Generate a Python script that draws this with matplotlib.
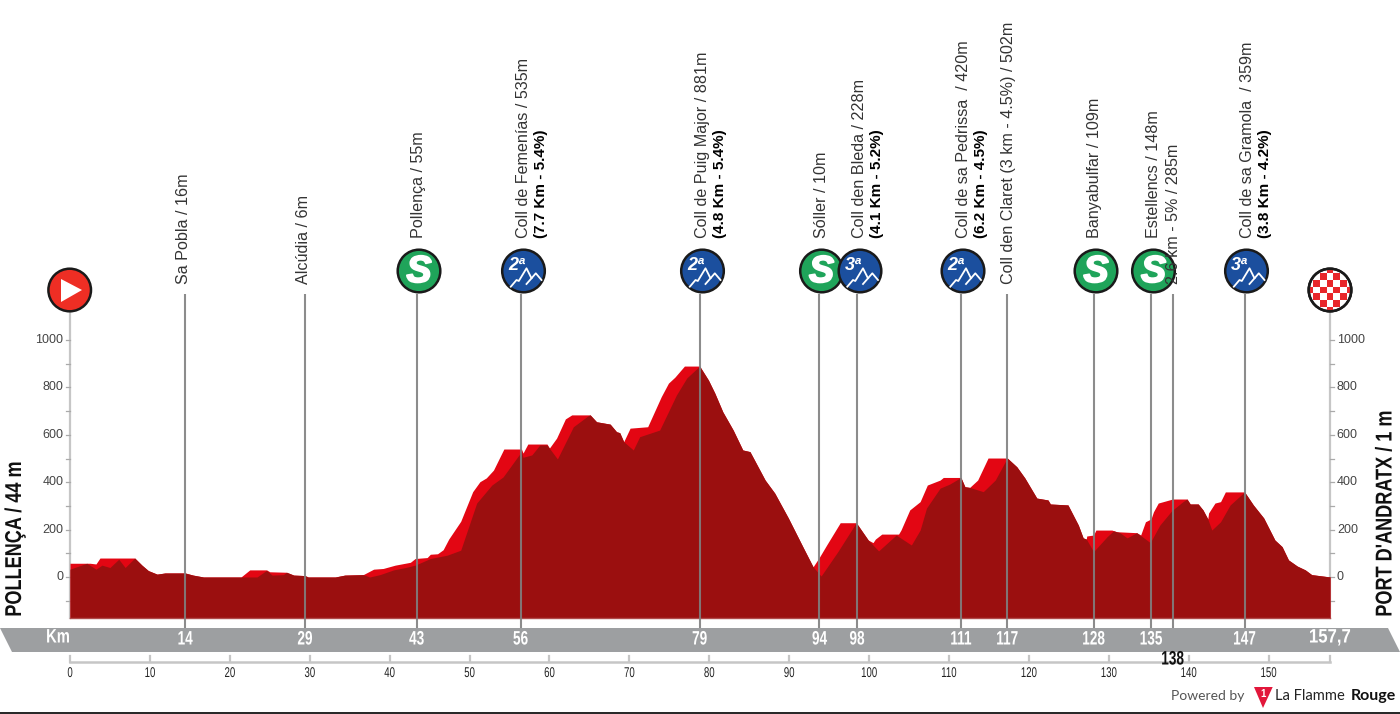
import matplotlib
matplotlib.use("Agg")
import matplotlib.pyplot as plt
import matplotlib.patheffects as pe
from matplotlib.patches import Circle, Polygon, Rectangle
from matplotlib.transforms import Affine2D

# elevation outline, bright red (km, m)
top_km = [0, 2.5, 3.25, 3.75, 8.1, 9, 9.8, 10.9, 11.9, 14.4, 15.4, 16.7, 21.4, 22.5, 24.6, 25, 27.1, 28, 29.4, 29.8,
          33.2, 34.4, 36.7, 38, 39.2, 40.7, 42.6, 43.2, 44.7, 45.1, 46, 46.7, 47.4, 48.9, 50.4, 51.3, 52.1, 53, 54.3,
          56.5, 56.7, 57.3, 59.7, 60, 60.9, 62, 62.8, 65.1, 65.9, 67.6, 68.4, 68.8, 69.3, 70.1, 72.3, 74, 74.9, 75.7,
          76.9, 78.8, 79.9, 80.7, 81.7, 83, 84.2, 85.1, 87, 88.2, 89.9, 91.8, 93, 93.8, 94.7, 96.4, 98.4, 99.9, 100.5,
          100.8, 101.6, 103.7, 104, 105.1, 106.4, 107.3, 108.9, 109.3, 111.5, 112, 112.6, 113.6, 114.9, 117.3, 118.5,
          119.5, 121, 122.4, 122.7, 124.9, 126.2, 126.8, 127.2, 127.25, 128.1, 128.4, 130.4, 131, 133.5, 134, 134.6,
          135.3, 135.6, 136.2, 138, 139.8, 140.2, 141.2, 141.8, 142.4, 142.5, 143.3, 144, 144.6, 147, 148.1, 149.4,
          150.8, 151.7, 152.5, 153.6, 154.6, 155.4, 157.5, 157.7]
top_m = [58, 58, 55, 80, 80, 50, 27, 12, 17, 17, 8, 0, 0, 30, 30, 22, 20, 8, 6, 0,
         0, 8, 10, 33, 36, 50, 62, 78, 82, 96, 98, 115, 160, 235, 360, 402, 418, 451, 540,
         540, 523, 561, 561, 544, 586, 667, 684, 684, 655, 645, 613, 609, 571, 628, 634, 761, 818, 843,
         890, 890, 831, 776, 697, 620, 536, 529, 409, 354, 249, 122, 43, 84, 135, 229, 229, 156, 145,
         160, 181, 181, 198, 283, 318, 388, 409, 420, 420, 381, 378, 409, 502, 502, 465,
         418, 333, 325, 308, 304, 219, 165, 160, 173, 177, 198, 198, 191, 187, 177, 233,
         245, 275, 312, 329, 329, 308, 308, 283, 245, 270, 312, 318, 359, 359, 304, 249,
         156, 128, 72, 46, 30, 10, 1, 1]

# darker front face, sits under the bright edge on the climbs
face_km = [0, 2.1, 3.25, 4, 5, 6.1, 6.9, 8.1, 9, 9.8, 10.9, 11.9, 14.4, 15.4, 16.7, 21.4, 23.4, 24.6, 25.3, 26.7, 27.1,
           28, 29.4, 29.8, 33.2, 34.4, 36.7, 37.5, 38.8, 40.5, 42, 43.2, 45.1, 47.2, 48.9, 50.9, 52.8, 54.2, 56.5, 56.7,
           57.8, 58.8, 59.7, 61, 63, 64.8, 65.1, 65.9, 67.6, 68.4, 68.8, 69.3, 70.5, 71.3, 73.8, 75.9, 77.2, 78.8,
           79.9, 80.7, 81.7, 83, 84.2, 85.1, 87, 88.2, 89.9, 91.8, 93, 94, 96.1, 98.4, 99.9, 101.2, 103.4, 105.3, 106.4,
           107.2, 108.9, 110.1, 111.5, 112, 112.6, 114.3, 115.8, 117.3, 118.5, 119.5, 121, 122.4, 122.7, 124.9, 126.2,
           126.8, 127.2, 128.1, 129.8, 130.6, 131.4, 132.3, 133.5, 134.2, 135.2, 136.4, 137.9, 139.3, 139.8, 140.2,
           141.2, 141.8, 142.4, 142.9, 144, 145.2, 147, 148.1, 149.4, 150.8, 151.7, 152.5, 153.6, 154.6, 155.4, 157.5,
           157.7]
face_m = [33, 58, 33, 50, 40, 75, 40, 80, 50, 27, 12, 17, 17, 8, 0, 0, 0, 28, 8, 10, 20,
          8, 6, 0, 0, 8, 10, 0, 10, 30, 40, 50, 78, 92, 113, 312, 388, 422, 529, 505,
          515, 557, 557, 498, 634, 679, 684, 655, 645, 613, 609, 571, 536, 592, 620, 768, 840, 890,
          831, 776, 697, 620, 536, 529, 409, 354, 249, 122, 43, 4, 107, 229, 156, 110, 177, 135, 198,
          291, 375, 392, 420, 381, 378, 360, 409, 502, 465, 418, 333, 325, 308, 304, 219,
          165, 160, 107, 170, 195, 187, 165, 187, 170, 145, 219, 280, 318, 329, 308,
          308, 283, 245, 198, 233, 304, 359, 304, 249, 156, 128, 72, 46, 30, 10, 1, 1]

stem_km = [14.4, 29.4, 43.4, 56.4, 78.8, 93.8, 98.5, 111.5, 117.3, 128.1, 135.3, 138, 147]
stem_labels = ["14", "29", "43", "56", "79", "94", "98", "111", "117", "128", "135", "138", "147"]

elev_ticks = [-100, 0, 100, 200, 300, 400, 500, 600, 700, 800, 900, 1000]
elev_labels = [0, 200, 400, 600, 800, 1000]
km_ticks = list(range(0, 151, 10))

places = ["Sa Pobla / 16m", "Alcúdia / 6m", "Pollença / 55m", "Coll de Femenías / 535m", "Coll de Puig Major / 881m",
          "Sóller / 10m", "Coll den Bleda / 228m", "Coll de sa Pedrissa  / 420m",
          "Coll den Claret (3 km - 4.5%) / 502m", "Banyabulfar / 109m", "Estellencs / 148m", "2.6 km - 5% / 285m",
          "Coll de sa Gramola  / 359m"]
place_x = [184, 304, 419, 523, 702, 822, 859, 963, 1008, 1095, 1154, 1173, 1247]
place_bottom = [284, 284, 238, 238, 238, 238, 238, 238, 284, 238, 238, 284, 238]
climb_text = ["(7.7 Km - 5.4%)", "(4.8 Km - 5.4%)", "(4.1 Km - 5.2%)", "(6.2 Km - 4.5%)", "(3.8 Km - 4.2%)"]
climb_x = [541, 720, 877, 981, 1265]

sprint_x = [419, 821.5, 1096, 1153.5]
climb_badge_x = [523.5, 702.5, 860, 963, 1246.5]
climb_badge_cat = ["2ª", "2ª", "3ª", "2ª", "3ª"]

BRIGHT = "#e30613"
DARK = "#9b0f0f"
BAND = "#9d9fa1"
STEM = "#808080"
AXIS = "#c6c6c6"
SANS = ["Liberation Sans", "DejaVu Sans"]
FOOT = ["Lato", "DejaVu Sans"]


# no narrow font installed, so squeeze the glyphs along the text direction
class Squeeze(pe.AbstractPathEffect):
    def __init__(self, sx, from_start=False):
        super().__init__()
        self.sx = sx
        self.from_start = from_start

    def draw_path(self, renderer, gc, tpath, affine, rgbFace=None):
        ext = tpath.get_extents()
        c = ext.x0 if self.from_start else (ext.x0 + ext.x1) / 2
        squeeze = Affine2D().translate(-c, 0).scale(self.sx, 1).translate(c, 0)
        renderer.draw_path(gc, tpath, squeeze + affine, rgbFace)


fig = plt.figure(figsize=(14, 7.14), dpi=100)

# profile axes, km/m. 7.99 px per km, 0.237 px per m, km 0 at px 70, 0 m at px 577
ax = fig.add_axes([0, 0, 1, 1])
ax.set_xlim(-70 / 7.99, (1400 - 70) / 7.99)
ax.set_ylim(-(714 - 577) / 0.237, 577 / 0.237)
ax.axis("off")

floor = -173
ax.fill_between(top_km, top_m, floor, color=BRIGHT, lw=0, zorder=2)
ax.fill_between(face_km, face_m, floor, color=DARK, lw=0, zorder=3)
ax.plot([0, 157.7], [floor, floor], color="#b04a4a", lw=1, zorder=3)

# elevation axes both sides
for xa, sign, ha in [(0, -1, "right"), (157.7, 1, "left")]:
    ax.plot([xa, xa], [floor, 1115], color=AXIS, lw=1.6, zorder=1)
    for t in elev_ticks:
        ax.plot([xa, xa + sign * 0.55], [t, t], color="#aaaaaa", lw=0.9, zorder=1)
    for t in elev_labels:
        ax.text(xa + sign * 0.85, t, str(t), ha=ha, va="center", fontsize=9, color="#444444", family=SANS)

# overlay in pixels for the furniture
ov = fig.add_axes([0, 0, 1, 1])
ov.set_xlim(0, 1400)
ov.set_ylim(714, 0)
ov.axis("off")
ov.patch.set_alpha(0)

ov.add_patch(Polygon([(0, 628), (1388, 628), (1400, 652), (12, 652)], color=BAND, lw=0, zorder=1))
ov.plot([0, 1400], [713.4, 713.4], color="black", lw=1.2, zorder=1)


def km_px(k):
    return 70 + k * 7.99


def band_text(x, y, s, sx, color="white"):
    ov.text(x, y, s, ha="center", va="center", fontsize=14, color=color, family=SANS, weight="bold", zorder=7,
            path_effects=[Squeeze(sx)])


for k, lab in zip(stem_km, stem_labels):
    px = km_px(k)
    ov.plot([px, px], [293.5, 628], color=STEM, lw=1.5, alpha=0.9, zorder=2, solid_capstyle="butt")
    if lab == "138":
        band_text(px, 660, lab, 0.7, "#111111")
    else:
        band_text(px, 640, lab, 0.7)
band_text(58, 638, "Km", 0.76)
band_text(km_px(157.7), 638, "157,7", 0.86)

# km scale under the band
ov.plot([km_px(0), km_px(157.7)], [662.3, 662.3], color=AXIS, lw=1.8, zorder=2)
for k in km_ticks + [157.7]:
    ov.plot([km_px(k), km_px(k)], [656, 662], color=AXIS, lw=1.6, zorder=2)
for k in km_ticks:
    ov.text(km_px(k), 673, str(k), ha="center", va="center", fontsize=10.2, color="#222222", family=SANS, zorder=3,
            path_effects=[Squeeze(0.68)])

# rotated labels
for name, x, b in zip(places, place_x, place_bottom):
    ov.text(x, b, name, rotation=90, ha="center", va="bottom", fontsize=11.6, color="#333333", family=SANS, zorder=6)
for name, x in zip(climb_text, climb_x):
    ov.text(x, 238, name, rotation=90, ha="center", va="bottom", fontsize=11, color="black", family=SANS,
            weight="bold", zorder=6)
for x, s in [(14.5, "POLLENÇA / 44 m"), (1385, "PORT D'ANDRATX / 1 m")]:
    ov.text(x, 617, s, rotation=90, ha="center", va="bottom", fontsize=16.5, color="#111111", family=SANS,
            weight="bold", path_effects=[Squeeze(0.79, from_start=True)])


def disc(x, y, color, z):
    ov.add_patch(Circle((x, y), 21.3, facecolor=color, edgecolor="#1a1a1a", lw=1.8, zorder=z))


for x in sprint_x:
    disc(x, 271, "#1fa45a", 3)
    ov.text(x, 272, "S", ha="center", va="center", fontsize=27, color="white", family=SANS, weight="bold",
            style="italic", zorder=4, path_effects=[pe.withStroke(linewidth=1.4, foreground="white")])

for x, cat in zip(climb_badge_x, climb_badge_cat):
    disc(x, 271, "#1b4f9e", 4)
    ov.text(x - 7, 265, cat, ha="center", va="center", fontsize=13, color="white", family=SANS, weight="bold",
            style="italic", zorder=5)
    ridge_x = [x - 12.7, x - 7, x - 4.7, x + 3, x + 8, x + 12.3, x + 18]
    ridge_y = [286.7, 280, 281, 268.3, 278.3, 273.3, 280]
    ov.plot(ridge_x, ridge_y, color="white", lw=1.3, zorder=5)
    ov.plot([x + 3, x + 8], [284, 278.3], color="white", lw=1.3, zorder=5)

# start
disc(69.7, 290, "#ee2e24", 3)
ov.add_patch(Polygon([(61, 279), (82, 290), (61, 302)], color="white", lw=0, zorder=4))

# finish, chequered
disc(1330, 290, "white", 3)
step = 6.7
for i in range(-3, 4):
    for j in range(-3, 4):
        if (i + j) % 2 == 1:
            r = Rectangle((1330 + (i - 0.5) * step, 290 + (j - 0.5) * step), step, step, facecolor="#e8262a", lw=0,
                          zorder=4)
            ov.add_patch(r)
            r.set_clip_path(Circle((1330, 290), 20.5, transform=ov.transData))
ov.add_patch(Circle((1330, 290), 21.3, facecolor="none", edgecolor="#1a1a1a", lw=1.8, zorder=5))

# footer
ov.text(1244, 696, "Powered by", ha="right", va="center", fontsize=10, color="#555555", family=FOOT)
ov.add_patch(Polygon([(1254, 687), (1272.7, 687), (1263, 708)], color="#e2173b", lw=0, zorder=3))
ov.text(1263, 694, "1", ha="center", va="center", fontsize=7, color="white", weight="bold", zorder=4, family=SANS)
ov.text(1275, 696, "La Flamme", ha="left", va="center", fontsize=10.6, color="#222222", family=FOOT)
ov.text(1351, 696, "Rouge", ha="left", va="center", fontsize=11.5, color="#111111", family=FOOT, weight="bold")

fig.savefig("out.png", dpi=100)
